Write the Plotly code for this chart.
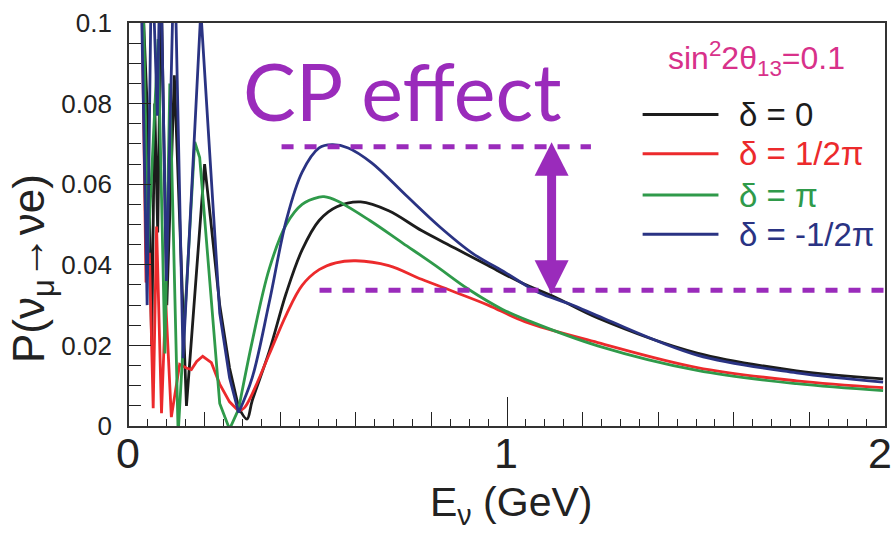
import plotly.graph_objects as go

# ---------------- data ----------------
# low-energy, fast-oscillating part (drawn with straight segments)
E_low_delta0 = [0.030, 0.050, 0.060, 0.068, 0.076, 0.085, 0.100, 0.120, 0.152, 0.200, 0.215, 0.240, 0.266, 0.290]
P_low_delta0 = [0.120, 0.075, 0.020, 0.080, 0.048, 0.110, 0.030, 0.087, 0.005, 0.065, 0.052, 0.030, 0.0144, 0.0046]
E_low_delta_half = [0.032, 0.045, 0.054, 0.064, 0.073, 0.086, 0.097, 0.112, 0.134, 0.152, 0.165, 0.179, 0.195,
                    0.218, 0.240, 0.266, 0.290]
P_low_delta_half = [0.120, 0.0356, 0.043, 0.0044, 0.0495, 0.0032, 0.031, 0.0022, 0.0153, 0.0144, 0.0140, 0.0160,
                    0.0173, 0.0157, 0.0104, 0.0060, 0.0037]
E_low_delta_pi = [0.035, 0.050, 0.077, 0.095, 0.108, 0.130, 0.174, 0.187, 0.240, 0.266, 0.290]
P_low_delta_pi = [0.120, 0.043, 0.096, 0.018, 0.085, -0.002, 0.0705, 0.0666, 0.0056, -0.0008, 0.0042]
E_low_delta_mhalf = [0.030, 0.048, 0.060, 0.075, 0.083, 0.099, 0.120, 0.143, 0.190, 0.240, 0.266, 0.290]
P_low_delta_mhalf = [0.120, 0.030, 0.120, 0.077, 0.120, 0.036, 0.120, 0.0168, 0.103, 0.028, 0.012, 0.0033]

# first oscillation maximum and tail (smooth part)
E_main_delta0 = [0.290, 0.312, 0.326, 0.371, 0.416, 0.458, 0.503, 0.550, 0.613, 0.687, 0.774, 0.863, 0.950,
                 1.037, 1.126, 1.240, 1.503, 1.766, 1.995]
P_main_delta0 = [0.0046, 0.0017, 0.0063, 0.0185, 0.0330, 0.0437, 0.0510, 0.0544, 0.0556, 0.0534, 0.0485, 0.0441,
                 0.0398, 0.0356, 0.0320, 0.0268, 0.0181, 0.0137, 0.0117]
E_main_delta_half = [0.290, 0.305, 0.326, 0.371, 0.416, 0.458, 0.503, 0.547, 0.600, 0.687, 0.774, 0.863, 0.950,
                     1.047, 1.240, 1.503, 1.766, 1.995]
P_main_delta_half = [0.0037, 0.0045, 0.0080, 0.0178, 0.0276, 0.0349, 0.0388, 0.0405, 0.0410, 0.0398, 0.0364,
                     0.0332, 0.0300, 0.0259, 0.0207, 0.0145, 0.0112, 0.0095]
E_main_delta_pi = [0.290, 0.326, 0.371, 0.416, 0.458, 0.503, 0.516, 0.550, 0.637, 0.724, 0.811, 0.897, 0.987,
                   1.063, 1.240, 1.503, 1.766, 1.995]
P_main_delta_pi = [0.0042, 0.0210, 0.0390, 0.0500, 0.0550, 0.0568, 0.0569, 0.0559, 0.0510, 0.0454, 0.0398,
                   0.0340, 0.0290, 0.0259, 0.0199, 0.0138, 0.0105, 0.0088]
E_main_delta_mhalf = [0.290, 0.326, 0.371, 0.416, 0.458, 0.503, 0.537, 0.580, 0.642, 0.732, 0.821, 0.908, 0.997,
                      1.082, 1.168, 1.258, 1.503, 1.766, 1.995]
P_main_delta_mhalf = [0.0033, 0.0120, 0.0307, 0.0510, 0.0630, 0.0690, 0.0698, 0.0690, 0.0653, 0.0573, 0.0495,
                      0.0429, 0.0380, 0.0332, 0.0302, 0.0266, 0.0176, 0.0132, 0.0109]

series_names = ["δ = 0", "δ = 1/2π", "δ = π", "δ = -1/2π"]
series_colors = ["#1c1c1c", "#ec2a2c", "#2f9a4a", "#2a3383"]

cp_max = 0.0693   # upper dashed level (largest peak)
cp_min = 0.0337   # lower dashed level
arrow_E = 1.118

x_tick_vals = [0, 1, 2]
x_tick_labels = ["0", "1", "2"]

# ---------------- figure ----------------
fig = go.Figure()
low = [(E_low_delta0, P_low_delta0), (E_low_delta_half, P_low_delta_half),
       (E_low_delta_pi, P_low_delta_pi), (E_low_delta_mhalf, P_low_delta_mhalf)]
main = [(E_main_delta0, P_main_delta0), (E_main_delta_half, P_main_delta_half),
        (E_main_delta_pi, P_main_delta_pi), (E_main_delta_mhalf, P_main_delta_mhalf)]
for (El, Pl), (Em, Pm), name, col in zip(low, main, series_names, series_colors):
    fig.add_trace(go.Scatter(x=El, y=Pl, mode="lines", name=name, showlegend=False,
                             line=dict(color=col, width=2.8, shape="linear")))
    fig.add_trace(go.Scatter(x=Em, y=Pm, mode="lines", name=name, showlegend=False,
                             line=dict(color=col, width=2.8, shape="spline", smoothing=1.0)))

# invisible trace for the overlay axis carrying the long unit ticks
fig.add_trace(go.Scatter(x=[0, 2], y=[0, 0], xaxis="x2", mode="lines", line=dict(width=0),
                         showlegend=False, hoverinfo="skip"))

purple = "#9a2bbb"
pink = "#d8318a"
axis_col = "#222"

fig.update_layout(
    width=895, height=533,
    margin=dict(l=129, r=8, t=16, b=107),
    paper_bgcolor="white", plot_bgcolor="white",
    font=dict(family="Liberation Sans, Arial, sans-serif", color="black"),
    xaxis=dict(range=[0, 2], dtick=0.2, tick0=0, ticks="inside", ticklen=14, tickwidth=1.3,
               tickcolor=axis_col, showline=True, linewidth=1.8, linecolor="#333", mirror=True,
               showgrid=False, zeroline=False, showticklabels=False,
               minor=dict(dtick=0.05, ticks="inside", ticklen=7, tickwidth=1.2, tickcolor=axis_col,
                          showgrid=False)),
    xaxis2=dict(range=[0, 2], overlaying="x", anchor="y", side="bottom", tickvals=x_tick_vals,
                ticks="inside", ticklen=29, tickwidth=1.3, tickcolor=axis_col, showticklabels=False,
                showgrid=False, zeroline=False, showline=False),
    yaxis=dict(range=[0, 0.1], dtick=0.02, ticks="inside", ticklen=22, tickwidth=1.3, tickcolor=axis_col,
               showline=True, linewidth=1.8, linecolor="#333", mirror=True, showgrid=False, zeroline=False,
               tickfont=dict(size=26, color=axis_col), ticklabelstandoff=10,
               minor=dict(dtick=0.005, ticks="inside", ticklen=12, tickwidth=1.2, tickcolor=axis_col,
                          showgrid=False)),
)

# x tick labels (the last one is pulled in, as in the reference)
for v, lab in zip(x_tick_vals, x_tick_labels):
    fig.add_annotation(text=lab, xref="x", yref="paper", x=v, y=-0.002, xanchor="center", yanchor="top",
                       xshift=(-5 if v == x_tick_vals[-1] else -1), showarrow=False,
                       font=dict(size=43, color=axis_col))

# dashed level lines
fig.add_shape(type="line", xref="paper", yref="y", x0=0.2018, x1=0.611, y0=cp_max, y1=cp_max,
              line=dict(color=purple, width=5, dash="12px,11px"))
fig.add_shape(type="line", xref="paper", yref="y", x0=0.252, x1=1.0106, y0=cp_min, y1=cp_min,
              line=dict(color=purple, width=5, dash="12px,11px"))
# double arrow
fig.add_shape(type="line", xref="x", yref="y", x0=arrow_E, x1=arrow_E, y0=cp_min + 0.004, y1=cp_max - 0.004,
              line=dict(color=purple, width=9))
fig.add_shape(type="path", xref="x", yref="y", xsizemode="pixel", ysizemode="pixel",
              xanchor=arrow_E, yanchor=cp_max, path="M-17,-29 L17,-29 L0,4.5 Z",
              fillcolor=purple, line=dict(width=0))
fig.add_shape(type="path", xref="x", yref="y", xsizemode="pixel", ysizemode="pixel",
              xanchor=arrow_E, yanchor=cp_min, path="M-17,30 L17,30 L0,-4 Z",
              fillcolor=purple, line=dict(width=0))

# "CP effect"
fig.add_annotation(text="CP effect", xref="paper", yref="paper", x=0.148, y=0.832, xanchor="left",
                   yanchor="middle", showarrow=False, font=dict(family="Lato", size=79, color=purple))

# legend block
fig.add_annotation(text="sin<sup>2</sup>2θ<sub>13</sub>=0.1", xref="paper", yref="paper", x=0.830, y=0.912,
                   xanchor="center", yanchor="middle", showarrow=False, font=dict(size=32, color=pink))
leg_y = [0.7732, 0.6756, 0.5732, 0.4756]
for name, col, yy in zip(series_names, series_colors, leg_y):
    fig.add_shape(type="line", xref="paper", yref="paper", x0=0.6794, x1=0.7797, y0=yy, y1=yy,
                  line=dict(color=col, width=3))
    fig.add_annotation(text=name, xref="paper", yref="paper", x=0.8047, y=yy, xanchor="left",
                       yanchor="middle", showarrow=False, font=dict(size=33, color=col))

# axis titles
fig.add_annotation(text="E<sub>ν</sub> (GeV)", xref="paper", yref="paper", x=0.505, y=-0.196,
                   xanchor="center", yanchor="middle", showarrow=False, font=dict(size=41, color=axis_col))
fig.add_annotation(text="P(ν<sub>μ</sub>→νe)", xref="paper", yref="paper", x=-0.128, y=0.39,
                   xanchor="center", yanchor="middle", textangle=-90, showarrow=False,
                   font=dict(size=44, color=axis_col))

fig.write_html("out.html")
